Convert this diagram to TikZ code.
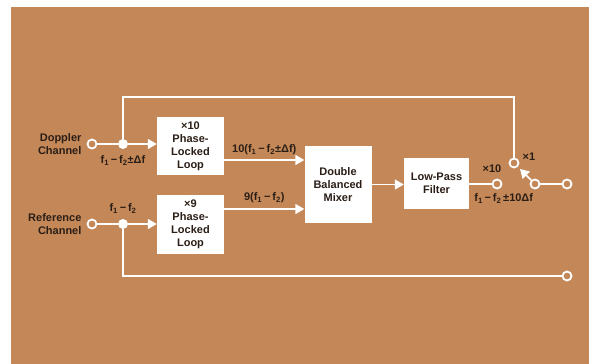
\documentclass[tikz,border=0pt]{standalone}
\usepackage{fontspec}
\setmainfont{Liberation Sans}
\usetikzlibrary{arrows.meta,positioning,calc}
\definecolor{carton}{HTML}{C48858}
\definecolor{tinta}{HTML}{2B1E16}

\begin{document}
\begin{tikzpicture}[x=1pt, y=-1pt,
  box/.style={
    fill=white, minimum width=67pt, align=center, text=tinta,
    font=\fontsize{11pt}{13pt}\selectfont\bfseries, inner sep=2pt
  },
  lbl/.style={text=tinta, font=\fontsize{11pt}{13pt}\selectfont\bfseries, inner sep=0pt},
  wire/.style={draw=white, line width=1.6pt},
  arr/.style={wire, -{Triangle[length=9pt, width=10pt]}},
  term/.style={circle, draw=white, fill=carton, line width=1.8pt, minimum size=9pt, inner sep=0pt},
  jdot/.style={circle, fill=white, minimum size=10pt, inner sep=0pt}
]
  \useasboundingbox (0,0) rectangle (589,364);
  \fill[white] (0,0) rectangle (589,364);
  \fill[carton] (11,7) rectangle (589,364);

  \node[box, minimum height=58pt] (pll10) at (190.5,146) {×10\\Phase-\\Locked\\Loop};
  \node[box, minimum height=59pt] (pll9) at (190.5,224.5) {×9\\Phase-\\Locked\\Loop};
  \node[box, minimum height=77pt] (mix) at (338,184.5) {Double\\Balanced\\Mixer};
  \node[box, minimum width=65pt, minimum height=51pt] (lpf) at (436.5,183.5) {Low-Pass\\Filter};

  \node[term] (dopin) at (92,144) {};
  \node[jdot] (dj) at (123,144) {};
  \node[term] (refin) at (92,224) {};
  \node[jdot] (rj) at (123,224) {};
  \node[term] (lpfout) at (497,184) {};
  \node[term] (swup) at (514,163) {};
  \node[term] (swc) at (535,184) {};
  \node[term] (dopout) at (567,184) {};
  \node[term] (refout) at (567,276) {};
  \coordinate (top) at (514,97);

  \node[lbl, align=right, left=5pt of dopin] (doplbl) {Doppler\\Channel};
  \node[lbl, align=right, left=5pt of refin] (reflbl) {Reference\\Channel};
  \node[lbl, below=6pt of dj] (djlbl) {f\textsubscript{1}\,−\,f\textsubscript{2}±Δf};
  \node[lbl, above=5pt of rj] (rjlbl) {f\textsubscript{1}\,−\,f\textsubscript{2}};
  \node[lbl, above=6pt of lpfout, xshift=-5pt] (x10) {×10};
  \node[lbl, anchor=north west] (outlbl) at ([xshift=5pt,yshift=-10pt]lpf.east)
    {f\textsubscript{1}\,−\,f\textsubscript{2}\,±10Δf};
  \node[lbl, anchor=west] (x1) at ([xshift=3pt,yshift=6pt]swup.east) {×1};

  \draw[wire] (dopin) -- (dj);
  \draw[arr] (dj) -- (dj -| pll10.west);
  \draw[wire] (dj) |- (top) -- (swup);
  \draw[arr] ([yshift=-14pt]pll10.east)
    -- node[lbl, above=4pt] {10(f\textsubscript{1}\,−\,f\textsubscript{2}±Δf)}
    ([yshift=-14pt]pll10.east -| mix.west);
  \draw[wire] (refin) -- (rj);
  \draw[arr] (rj) -- (rj -| pll9.west);
  \draw[wire] (rj) |- (refout);
  \draw[arr] ([yshift=15.5pt]pll9.east)
    -- node[lbl, above=5pt] {9(f\textsubscript{1}\,−\,f\textsubscript{2})}
    ([yshift=15.5pt]pll9.east -| mix.west);
  \draw[arr] (mix.east) -- (mix.east -| lpf.west);
  \draw[wire] (lpfout -| lpf.east) -- (lpfout);
  \draw[wire] (swc) -- (dopout);
  \draw[arr, shorten >=3pt] (swc) -- (swup);
\end{tikzpicture}
\end{document}
